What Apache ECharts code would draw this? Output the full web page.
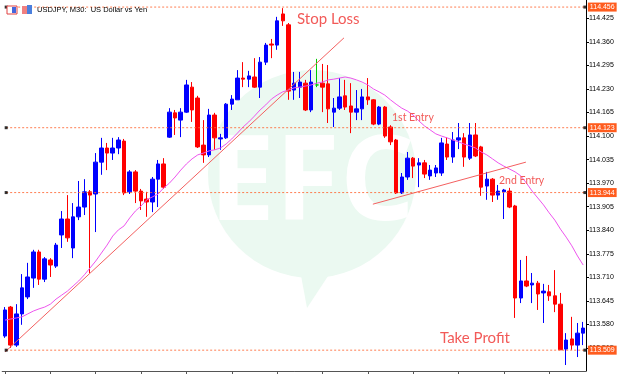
<!DOCTYPE html>
<html>
<head>
<meta charset="utf-8">
<script src="https://cdn.jsdelivr.net/npm/echarts@6/dist/echarts.min.js"></script>
<style>
html, body { margin: 0; padding: 0; background: #fff; }
#chart { width: 627px; height: 376px; }
</style>
</head>
<body>
<div id="chart"></div>
<script>
// USDJPY M30, one entry per bar: [open, close, low, high]
var candles = [
  [113.548,113.620,113.543,113.628],[113.628,113.523,113.515,113.631],[113.523,113.609,113.518,113.636],
  [113.609,113.681,113.579,113.719],[113.656,113.711,113.650,113.750],[113.708,113.780,113.681,113.786],
  [113.780,113.705,113.689,113.786],[113.705,113.761,113.697,113.766],[113.758,113.744,113.711,113.763],
  [113.741,113.799,113.736,113.805],[113.827,113.871,113.791,113.893],[113.871,113.819,113.808,113.937],
  [113.791,113.877,113.763,113.915],[113.877,113.904,113.868,113.976],[113.904,113.946,113.882,113.981],
  [113.946,113.937,113.722,113.951],[113.940,114.028,113.835,114.053],[114.028,114.067,113.993,114.095],
  [114.067,114.053,114.006,114.081],[114.053,114.067,114.034,114.095],[114.067,114.089,114.050,114.097],
  [114.086,113.943,113.937,114.092],[113.946,114.001,113.940,114.006],[114.001,113.948,113.915,114.006],
  [113.948,113.921,113.896,113.954],[113.926,113.918,113.877,113.946],[113.918,113.981,113.890,113.987],
  [113.981,114.023,113.904,114.034],[114.023,113.959,113.954,114.039],[114.097,114.166,114.095,114.177],
  [114.164,114.150,114.103,114.172],[114.144,114.166,114.097,114.177],[114.166,114.241,114.164,114.255],
  [114.235,114.172,114.139,114.249],[114.205,114.070,114.067,114.211],[114.075,114.048,114.026,114.144],
  [114.048,114.158,114.042,114.175],[114.158,114.095,114.062,114.164],[114.092,114.095,114.062,114.106],
  [114.095,114.188,114.092,114.191],[114.188,114.202,114.172,114.213],[114.200,114.260,114.200,114.282],
  [114.260,114.257,114.235,114.304],[114.257,114.266,114.235,114.280],[114.263,114.235,114.233,114.315],
  [114.235,114.304,114.205,114.318],[114.304,114.351,114.296,114.357],[114.354,114.351,114.315,114.368],
  [114.351,114.418,114.338,114.429],[114.437,114.418,114.404,114.453],[114.407,114.224,114.200,114.412],
  [114.227,114.246,114.200,114.277],[114.235,114.249,114.205,114.277],[114.246,114.172,114.169,114.255],
  [114.172,114.249,114.166,114.282],[114.241,114.241,114.235,114.313],[114.246,114.235,114.166,114.299],
  [114.244,114.175,114.136,114.296],[114.166,114.177,114.125,114.205],[114.177,114.208,114.172,114.260],
  [114.211,114.180,114.172,114.255],[114.183,114.166,114.108,114.246],[114.166,114.175,114.144,114.227],
  [114.175,114.208,114.144,114.230],[114.208,114.200,114.186,114.260],[114.200,114.133,114.130,114.202],
  [114.133,114.180,114.130,114.183],[114.180,114.100,114.095,114.183],[114.125,114.084,114.075,114.130],
  [114.089,113.943,113.940,114.092],[113.943,113.987,113.940,113.998],[113.987,114.039,113.979,114.056],
  [114.039,114.017,113.984,114.042],[114.020,114.026,113.959,114.039],[114.026,113.995,113.984,114.034],
  [113.990,114.006,113.979,114.020],[113.998,114.012,113.987,114.020],[113.998,114.081,113.990,114.095],
  [114.078,114.042,114.034,114.097],[114.042,114.089,114.026,114.111],[114.089,114.095,114.064,114.136],
  [114.095,114.042,114.015,114.108],[114.039,114.103,114.034,114.136],[114.103,114.045,114.042,114.136],
  [114.070,113.959,113.935,114.073],[113.962,113.981,113.924,114.001],[113.981,113.937,113.918,113.984],
  [113.937,113.948,113.924,113.965],[113.946,113.951,113.871,113.954],[113.948,113.904,113.901,113.957],
  [113.907,113.653,113.598,113.910],[113.653,113.700,113.639,113.758],[113.700,113.686,113.683,113.769],
  [113.689,113.694,113.639,113.722],[113.694,113.664,113.620,113.700],[113.667,113.672,113.584,113.692],
  [113.670,113.659,113.645,113.689],[113.659,113.636,113.614,113.730],[113.636,113.510,113.510,113.667],
  [113.512,113.537,113.468,113.556],[113.540,113.523,113.510,113.601],[113.523,113.556,113.490,113.584],
  [113.556,113.570,113.523,113.587]
];

// moving average as drawn on the chart (one value per bar)
var maLine = [
  113.592,113.595,113.598,113.601,113.609,113.617,113.623,113.628,113.636,113.650,
  113.661,113.672,113.686,113.700,113.717,113.736,113.755,113.777,113.799,113.824,
  113.841,113.852,113.874,113.893,113.907,113.924,113.932,113.940,113.957,113.970,
  113.987,114.006,114.023,114.037,114.048,114.053,114.059,114.062,114.067,114.078,
  114.092,114.108,114.125,114.139,114.155,114.172,114.186,114.202,114.213,114.222,
  114.227,114.233,114.235,114.238,114.241,114.246,114.249,114.255,114.257,114.260,
  114.263,114.260,114.255,114.249,114.241,114.230,114.222,114.213,114.200,114.188,
  114.177,114.169,114.158,114.142,114.128,114.117,114.106,114.100,114.095,114.089,
  114.084,114.078,114.073,114.067,114.056,114.048,114.037,114.026,114.017,114.009,
  114.001,113.990,113.970,113.948,113.929,113.910,113.888,113.868,113.843,113.821,
  113.797,113.769,113.744
];

// price levels (stop loss, 1st entry, 2nd entry, take profit)
var levels = [114.456, 114.123, 113.944, 113.509];
var yTicks = [113.515, 113.580, 113.645, 113.710, 113.775, 113.840, 113.905, 113.970,
              114.035, 114.100, 114.165, 114.230, 114.295, 114.360, 114.425];
// trend lines, [bar index, price]
var trendUp = [[0, 113.504], [59.8, 114.371]];
var trendEntry = [[64.9, 113.912], [91.9, 114.028]];
var categories = candles.map(function (d, i) { return String(i); });

var chart = echarts.init(document.getElementById('chart'));

var levelColor = '#ff6633';
var noteColor = '#f25a58';

var series = [
  {
    type: 'candlestick',
    data: candles,
    barWidth: 4,
    itemStyle: {
      color: '#0000ff', color0: '#ff0000',
      borderColor: '#0000ff', borderColor0: '#ff0000',
      borderColorDoji: '#00cc00', borderWidth: 1
    },
    z: 2
  },
  {
    type: 'line',
    data: maLine,
    symbol: 'none',
    lineStyle: { color: '#ee55ee', width: 1 },
    z: 3
  },
  {
    type: 'line', xAxisIndex: 1, data: trendUp, symbol: 'none',
    lineStyle: { color: '#f46060', width: 1 }, z: 4
  },
  {
    type: 'line', xAxisIndex: 1, data: trendEntry, symbol: 'none',
    lineStyle: { color: '#f46060', width: 1 }, z: 4
  }
];

levels.forEach(function (lv) {
  series.push({
    type: 'line', xAxisIndex: 1, symbol: 'none', z: 5,
    data: [[0.2, lv], [102.3, lv]],
    lineStyle: { color: levelColor, width: 1, type: [2, 2], opacity: 0.85 },
    endLabel: {
      show: true, distance: 3,
      formatter: function () { return lv.toFixed(3); },
      color: '#fff', backgroundColor: '#ff5c1e',
      fontFamily: 'Liberation Sans', fontSize: 7, padding: [1, 2]
    }
  });
});

var anchors = [];
levels.forEach(function (lv) { anchors.push([0.2, lv]); anchors.push([102.3, lv]); });
series.push({
  type: 'scatter', xAxisIndex: 1, data: anchors, symbol: 'rect', symbolSize: 3,
  itemStyle: { color: '#000' }, z: 6
});

chart.setOption({
  animation: false,
  backgroundColor: '#fff',
  grid: { left: 2.2, right: 41, top: 0, bottom: 5 },
  xAxis: [
    {
      type: 'category', data: categories, boundaryGap: true,
      axisLine: { onZero: false, lineStyle: { color: '#555', width: 1 } },
      axisTick: { show: true, interval: 7, alignWithLabel: true, length: 3, lineStyle: { color: '#555' } },
      axisLabel: { show: false },
      splitLine: { show: false }
    },
    { type: 'value', min: -0.5, max: 102.5, show: false }
  ],
  yAxis: {
    type: 'value', position: 'right',
    min: 113.4515, max: 114.4755,
    axisLine: { show: true, onZero: false, lineStyle: { color: '#000' } },
    axisTick: { show: true, length: 3, customValues: yTicks, lineStyle: { color: '#000' } },
    axisLabel: {
      customValues: yTicks, margin: 3,
      formatter: function (v) { return v.toFixed(3); },
      color: '#000', fontFamily: 'Liberation Sans', fontSize: 7
    },
    splitLine: { show: false }
  },
  graphic: [
    // watermark
    { type: 'circle', shape: { cx: 312, cy: 174, r: 104 }, style: { fill: '#ebf9f1' }, z: -10, silent: true },
    { type: 'polygon', shape: { points: [[300, 270], [332, 270], [307, 308]] }, style: { fill: '#ebf9f1' }, z: -10, silent: true },
    { type: 'text', x: 312, y: 186, z: -9, silent: true,
      style: { text: 'EFC', fill: '#ffffff', font: 'bold 118px "Open Sans"', align: 'center', verticalAlign: 'middle' } },
    // title icons and text
    { type: 'rect', shape: { x: 7, y: 6, width: 10, height: 8 }, style: { fill: '#fff', stroke: '#e04040', lineWidth: 1 }, z: 20 },
    { type: 'rect', shape: { x: 12, y: 7, width: 4, height: 6 }, style: { fill: '#4466dd' }, z: 20 },
    { type: 'rect', shape: { x: 22, y: 6, width: 5, height: 8 }, style: { fill: '#f08080' }, z: 20 },
    { type: 'rect', shape: { x: 27, y: 5, width: 5, height: 9 }, style: { fill: '#4a7fdd' }, z: 20 },
    { type: 'text', x: 37, y: 10, z: 20,
      style: { text: 'USDJPY, M30:  US Dollar vs Yen', fill: '#000', font: '7.5px "Liberation Sans"', verticalAlign: 'middle' } },
    // trade notes
    { type: 'text', x: 297, y: 19, z: 20,
      style: { text: 'Stop Loss', fill: noteColor, font: '15px Lato', verticalAlign: 'middle' } },
    { type: 'text', x: 392, y: 118, z: 20,
      style: { text: '1st Entry', fill: noteColor, font: '10.5px Lato', verticalAlign: 'middle' } },
    { type: 'text', x: 499, y: 181, z: 20,
      style: { text: '2nd Entry', fill: noteColor, font: '10.5px Lato', verticalAlign: 'middle' } },
    { type: 'text', x: 440, y: 338, z: 20,
      style: { text: 'Take Profit', fill: noteColor, font: '15px Lato', verticalAlign: 'middle' } }
  ],
  series: series
});
</script>
</body>
</html>
